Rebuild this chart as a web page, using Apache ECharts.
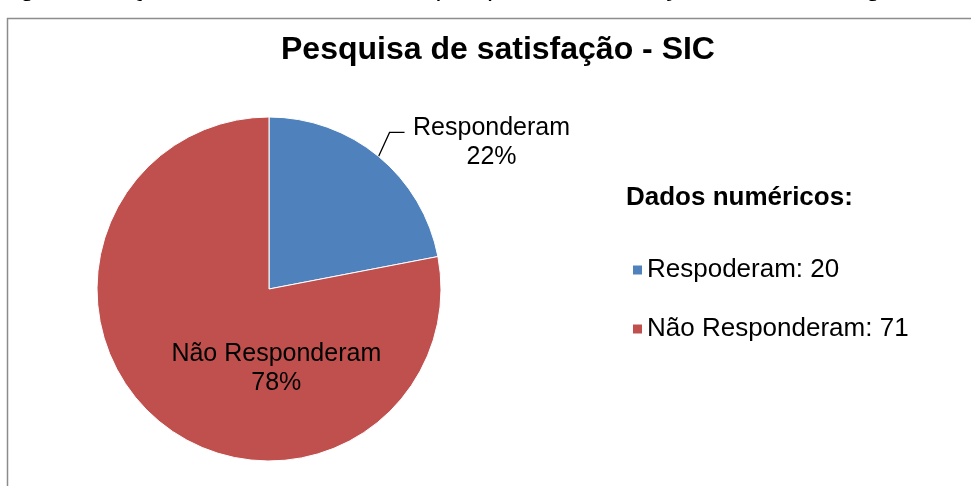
<!DOCTYPE html>
<html><head><meta charset="utf-8">
<script src="https://cdn.jsdelivr.net/npm/echarts@6/dist/echarts.min.js"></script>
<style>html,body{margin:0;padding:0;background:#fff}#c{width:971px;height:486px}</style>
</head><body><div id="c"></div>
<script>
const categories = ['Responderam', 'Não Responderam'];
const values = [20, 71];
const legendLabels = ['Respoderam', 'Não Responderam'];
const colors = ['#4F81BD', '#C0504D'];
const titleText = 'Pesquisa de satisfação - SIC';
const legendTitle = 'Dados numéricos:';
const captionText = 'Figura 14: Quantitativos referentes à pesquisa de satisfação do SIC no segundo semestre';

const FONT = "'Liberation Sans', Arial, sans-serif";
const chart = echarts.init(document.getElementById('c'), null, {renderer: 'canvas'});
chart.setOption({
  animation: false,
  backgroundColor: '#fff',
  color: colors,
  graphic: [
    {type: 'rect', shape: {x: 7.5, y: 18.5, width: 1100, height: 600}, style: {fill: 'none', stroke: '#8c8c8c', lineWidth: 1.5}, silent: true},
    {type: 'text', left: -2, top: -24.5, style: {text: captionText, font: '26.5px ' + FONT, fill: '#000'}, silent: true}
  ],
  title: [
    {text: titleText, left: 493, top: 29, textAlign: 'center',
     textStyle: {fontFamily: FONT, fontSize: 32, fontWeight: 'bold', color: '#000'}},
    {text: legendTitle, left: 626, top: 185, padding: 0,
     textStyle: {fontFamily: FONT, fontSize: 26, fontWeight: 'bold', color: '#000'}}
  ],
  legend: {
    orient: 'vertical', left: 631, top: 257, padding: 0, itemWidth: 11, itemHeight: 11, itemGap: 33,
    icon: 'rect',
    data: categories,
    formatter: function (name) {
      const i = categories.indexOf(name);
      return legendLabels[i] + ': ' + values[i];
    },
    textStyle: {fontFamily: FONT, fontSize: 26, color: '#000', padding: [0, 0, 0, -1]}
  },
  series: [{
    type: 'pie',
    center: [269, 289],
    radius: 172,
    startAngle: 90,
    clockwise: true,
    itemStyle: {borderColor: '#fff', borderWidth: 1},
    data: categories.map((c, i) => ({
      name: c, value: values[i],
      label: i === 0 ? {position: 'outside'} : {position: 'inside'},
      labelLine: i === 0 ? {show: true} : {show: false}
    })),
    label: {
      formatter: function (p) { return p.name + '\n' + Math.round(p.percent) + '%'; },
      fontFamily: FONT, fontSize: 25, color: '#000', lineHeight: 29, align: 'center'
    },
    labelLine: {lineStyle: {color: '#000', width: 1.3}},
    labelLayout: function (p) {
      if (p.dataIndex === 0) {
        const e = p.labelLinePoints[0];
        return {
          x: e[0] + 113, y: e[1] - 14, align: 'center', verticalAlign: 'middle',
          labelLinePoints: [[e[0], e[1]], [e[0] + 11, e[1] - 24], [e[0] + 26, e[1] - 24]]
        };
      }
      return {dx: 64, dy: 11};
    }
  }]
});
</script></body></html>
